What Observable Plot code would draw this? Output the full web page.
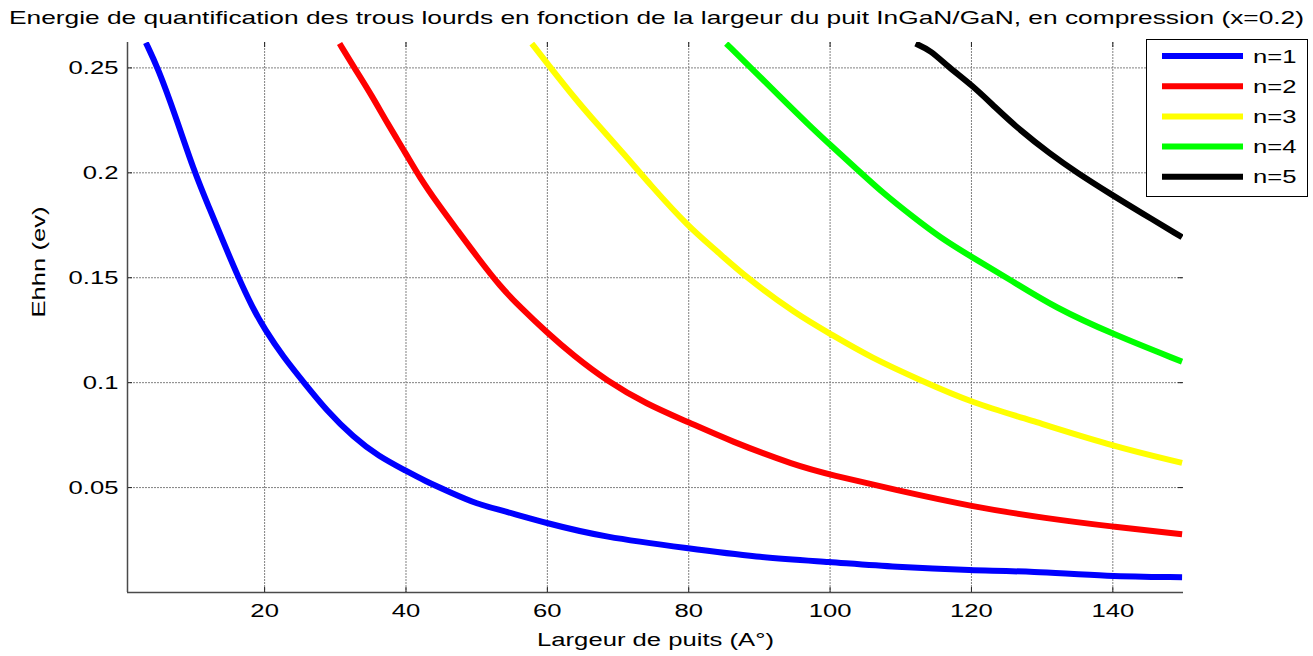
<!DOCTYPE html>
<html><head><meta charset="utf-8">
<script src="https://cdn.jsdelivr.net/npm/d3@7"></script>
<script src="https://cdn.jsdelivr.net/npm/@observablehq/plot@0.6"></script>
<style>
html,body{margin:0;padding:0;background:#fff;}
#wrap{position:relative;width:1313px;height:656px;overflow:hidden;font-family:"Liberation Sans",Arial,sans-serif;}
#title{display:block;}
#chart svg{display:block;}
#legend{position:absolute;left:1146px;top:39px;}
</style></head><body>
<div id="wrap">
<svg id="title" width="1313" height="30"></svg>
<div id="chart"></div>
<svg id="legend" width="162" height="158"></svg>
</div>
<script>
const titleText = "Energie de quantification des trous lourds en fonction de la largeur du puit InGaN/GaN, en compression (x=0.2)";
const xLabel = "Largeur de puits (A°)";
const yLabel = "Ehhn (ev)";
const seriesNames = ["n=1", "n=2", "n=3", "n=4", "n=5"];
const seriesColors = ["#0000ff", "#ff0000", "#ffff00", "#00ff00", "#000000"];
const xTicks = [20, 40, 60, 80, 100, 120, 140];
const yTicks = [0.05, 0.1, 0.15, 0.2, 0.25];
const yTickLabels = ["0.05", "0.1", "0.15", "0.2", "0.25"];
const xDomain = [0.6, 150];
const yDomain = [0, 0.2621];

const n1X = [3.2, 4.9, 7.4, 10.1, 12.2, 14.1, 16.3, 18.3, 20, 22.6, 25.7, 28.7, 32.6, 36.1, 40, 42.6, 46.3, 50.1, 53.5, 60, 67.8, 80.2, 89.3, 100.1, 109.2, 120.1, 128.5, 139.2, 149.8];
const n1Y = [0.262, 0.25, 0.227, 0.200, 0.183, 0.1675, 0.150, 0.1357, 0.1255, 0.1125, 0.0995, 0.087, 0.0739, 0.0650, 0.0580, 0.0533, 0.0477, 0.0421, 0.0392, 0.0329, 0.0265, 0.0209, 0.0169, 0.0145, 0.0121, 0.0105, 0.0101, 0.0077, 0.0073];
const n2X = [30.6, 32.7, 35.1, 37.4, 40, 41.9, 44.5, 47.3, 50.1, 53.4, 56.2, 59.9, 63.7, 68.4, 74, 80, 85.8, 95.2, 100.1, 109.2, 120.1, 130.6, 140.1, 149.8];
const n2Y = [0.2616, 0.25, 0.2372, 0.2234, 0.2091, 0.198, 0.1852, 0.1725, 0.1598, 0.1455, 0.1359, 0.124, 0.1129, 0.1009, 0.0898, 0.0811, 0.0723, 0.0604, 0.0561, 0.0489, 0.0409, 0.0353, 0.0313, 0.0278];
const n3X = [57.8, 60, 64.1, 67, 70.8, 74.5, 80, 83.9, 88.1, 95.2, 100.1, 105.8, 113, 120.1, 128.8, 140, 149.8];
const n3Y = [0.2616, 0.2521, 0.2346, 0.2234, 0.2091, 0.1945, 0.1741, 0.163, 0.1502, 0.1327, 0.1231, 0.1119, 0.1008, 0.0904, 0.0817, 0.0697, 0.0618];
const n4X = [85.3, 88.9, 92.5, 97.3, 100.1, 104, 107.6, 111.8, 115.5, 120.1, 125.7, 131.8, 140, 149.8];
const n4Y = [0.2616, 0.2497, 0.2377, 0.2218, 0.2131, 0.2011, 0.19, 0.1788, 0.1693, 0.1597, 0.1486, 0.1358, 0.1231, 0.1100];
const n5X = [112.1, 114.2, 116.7, 120.1, 123.3, 126.9, 131.1, 134.8, 140, 143.9, 149.8];
const n5Y = [0.2616, 0.2584, 0.2505, 0.2417, 0.2314, 0.2202, 0.2091, 0.2003, 0.1892, 0.1812, 0.1693];

const allX = [n1X, n2X, n3X, n4X, n5X];
const allY = [n1Y, n2Y, n3Y, n4Y, n5Y];
const rows = [];
seriesNames.forEach((name, i) => allX[i].forEach((x, j) => rows.push({n: name, x, y: allY[i][j]})));

const STRETCH = 1.35;
const FONT = "Liberation Sans, Arial, sans-serif";

// Title
d3.select("#title").append("text")
  .attr("x", 9).attr("y", 24)
  .attr("font-size", 19).attr("font-family", FONT)
  .attr("textLength", 1295).attr("lengthAdjust", "spacingAndGlyphs")
  .text(titleText);

const tickLenY = 0.0024, tickLenX = 0.7;
const gridStyle = {stroke: "#808080", strokeOpacity: 1, strokeWidth: 1, strokeDasharray: "2,1"};

const chart = Plot.plot({
  width: 1313, height: 626,
  marginLeft: 127, marginRight: 130, marginTop: 12, marginBottom: 64,
  style: {fontFamily: FONT, fontSize: "19px", color: "#000", background: "transparent"},
  x: {domain: xDomain, axis: null},
  y: {domain: yDomain, axis: null},
  color: {domain: seriesNames, range: seriesColors},
  marks: [
    Plot.gridX({ticks: xTicks, ...gridStyle}),
    Plot.gridY({ticks: yTicks, ...gridStyle}),
    Plot.ruleX(xTicks, {y1: yDomain[0], y2: yDomain[0] + tickLenY, stroke: "#222"}),
    Plot.ruleX(xTicks, {y1: yDomain[1] - tickLenY, y2: yDomain[1], stroke: "#222"}),
    Plot.ruleY(yTicks, {x1: xDomain[0], x2: xDomain[0] + tickLenX, stroke: "#222"}),
    Plot.ruleY(yTicks, {x1: xDomain[1] - tickLenX, x2: xDomain[1], stroke: "#222"}),
    Plot.ruleX([xDomain[0]], {stroke: "#4a4a4a", strokeWidth: 1.5}),
    Plot.ruleY([yDomain[0]], {stroke: "#4a4a4a", strokeWidth: 1.5}),
    Plot.axisX({ticks: xTicks, tickSize: 0, tickPadding: 11, fontSize: 19, label: null, tickFormat: d => String(d)}),
    Plot.axisY({ticks: yTicks, tickSize: 0, tickPadding: 9, fontSize: 19, label: null, tickFormat: d => yTickLabels[yTicks.indexOf(d)]}),
    Plot.line(rows, {x: "x", y: "y", z: "n", stroke: "n", strokeWidth: 6, curve: "basis", clip: true, strokeLinecap: "butt"}),
    Plot.text([xLabel], {text: d => d, frameAnchor: "bottom", lineAnchor: "bottom", dy: 53, fontSize: 19, fill: "#000"}),
    Plot.text([yLabel], {text: d => d, frameAnchor: "left", rotate: -90, dx: -89, fontSize: 19, fill: "#000"})
  ]
});
document.getElementById("chart").appendChild(chart);

function stretch(el, k) {
  const x = +(el.getAttribute("x") || 0);
  const t = el.getAttribute("transform") || "";
  el.setAttribute("transform", `${t} translate(${x},0) scale(${k},1) translate(${-x},0)`);
}
chart.querySelectorAll('g[aria-label="x-axis tick label"] text, g[aria-label="y-axis tick label"] text').forEach(el => stretch(el, STRETCH));
chart.querySelectorAll('g[aria-label="text"] text').forEach(el => {
  if (el.textContent === xLabel || el.textContent === yLabel) stretch(el, STRETCH);
});

// Legend
const lg = d3.select("#legend");
lg.append("rect").attr("x", 0.5).attr("y", 0.5).attr("width", 161).attr("height", 157)
  .attr("fill", "#fff").attr("stroke", "#000").attr("stroke-width", 1);
seriesNames.forEach((name, i) => {
  const cy = 17 + i * 30.2;
  lg.append("line").attr("x1", 16).attr("x2", 97).attr("y1", cy).attr("y2", cy)
    .attr("stroke", seriesColors[i]).attr("stroke-width", 6);
  const t = lg.append("text").attr("x", 107).attr("y", cy).attr("dy", "0.35em")
    .attr("font-size", 19).attr("font-family", FONT).text(name);
  stretch(t.node(), STRETCH);
});
</script>
</body></html>
